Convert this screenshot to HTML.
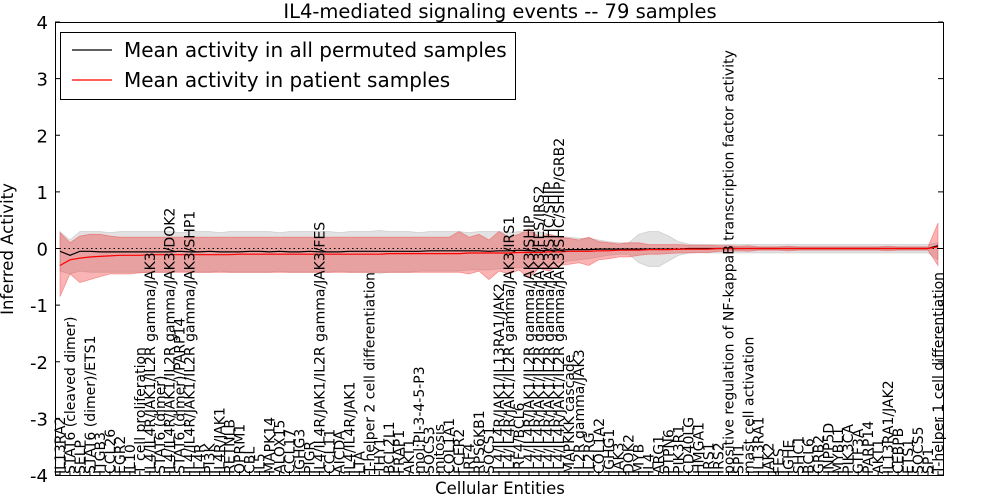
<!DOCTYPE html>
<html><head><meta charset="utf-8">
<style>
html,body{margin:0;padding:0;background:#fff;}
svg{display:block;font-family:"DejaVu Sans","Liberation Sans",sans-serif;}
</style></head>
<body>
<svg id="chart" width="1000" height="500" viewBox="0 0 1000 500">
  <rect x="0" y="0" width="1000" height="500" fill="#fff"/>
  <text x="500" y="18" text-anchor="middle" font-size="19.5">IL4-mediated signaling events -- 79 samples</text>
  <g id="bands"></g>
  <g id="lines"></g>
  <g id="xlabels"></g>
  <g id="axes"></g>
  <text x="500" y="494" text-anchor="middle" font-size="16.5">Cellular Entities</text>
  <text transform="translate(13,249) rotate(-90)" text-anchor="middle" font-size="16.5">Inferred Activity</text>
  <g>
    <rect x="60.5" y="32.5" width="455" height="67" fill="#fff" stroke="#000" stroke-width="1"/>
    <line x1="72" y1="50" x2="112" y2="50" stroke="#000" stroke-width="1.2"/>
    <text x="124" y="57" font-size="20">Mean activity in all permuted samples</text>
    <line x1="72" y1="80" x2="112" y2="80" stroke="#f00" stroke-width="1.2"/>
    <text x="124" y="87" font-size="20">Mean activity in patient samples</text>
  </g>
</svg>
<script>
const categories = ["IL13RA2","STAT6 (cleaved dimer)","SELP","STAT6 (dimer)/ETS1","ITGB3","CCL26","EGR2","IL10","T cell proliferation","IL4/IL4R/JAK1/IL2R gamma/JAK3","STAT6 (dimer)","IL4/IL4R/JAK1/IL2R gamma/JAK3/DOK2","STAT6 (dimer)/PARP14","IL4/IL4R/JAK1/IL2R gamma/JAK3/SHP1","IL4R","PI3K","IL4R/JAK1","RETNLB","OPRM1","CBL","IL5","MAPK14","ALOX15","CCL17","IGHG3","PIGR","IL4/IL4R/JAK1/IL2R gamma/JAK3/FES","CCL11","AICDA","IL4/IL4R/JAK1","LTA","T-helper 2 cell differentiation","THY1","BCL2L1","FRAP1","AKT1","mol:PI-3-4-5-P3","SOCS3","mitosis","COL1A1","FCER2","IRF4","RPS6KB1","SOCS1","IL4/IL4R/JAK1/IL13RA1/JAK2","IL4/IL4R/JAK1/IL2R gamma/JAK3/IRS1","IRF4/BCL6","IL4/IL4R/JAK1/IL2R gamma/JAK3/SHIP","IL4/IL4R/JAK1/IL2R gamma/JAK3/FES/IRS2","IL4/IL4R/JAK1/IL2R gamma/JAK3/SHC/SHIP","IL4/IL4R/JAK1/IL2R gamma/JAK3/SHC/SHIP/GRB2","MAPKKK cascade","IL2R gamma/JAK3","IL2RG","COL1A2","IGHG1","JAK3","DOK2","MYB","IL4","ARG1","PTPN6","PIK3R1","CD40LG","HMGA1","IRS1","IRS2","positive regulation of NF-kappaB transcription factor activity","SPI1","mast cell activation","IL13RA1","JAK2","FES","IGHE","SHC1","BCL6","GRB2","INPP5D","MYBL1","PIK3CA","GTF3A","PARP14","AKT1","IL13RA1/JAK2","CEBPB","ETS1","SOCS5","SP1","T-helper 1 cell differentiation"];
const permMean = [-0.05,-0.12,-0.05,-0.05,-0.06,-0.06,-0.06,-0.06,-0.06,-0.06,
-0.06,-0.06,-0.05,-0.06,-0.06,-0.05,-0.06,-0.06,-0.06,-0.05,
-0.05,-0.06,-0.05,-0.06,-0.06,-0.05,-0.06,-0.06,-0.06,-0.05,
-0.05,-0.05,-0.05,-0.05,-0.05,-0.05,-0.05,-0.04,-0.04,-0.04,
-0.04,-0.04,-0.04,-0.05,-0.04,-0.04,-0.03,-0.04,-0.04,-0.03,
-0.03,-0.02,-0.02,-0.02,-0.01,-0.01,-0.01,-0.01,-0.01,-0.01,
-0.01,-0.01,-0.01,0,0,0,0,0,0,0,
0,0,0,0,0,0,0,0,0,0,
0,0,0,0,0,0,0,0,0.05];
const permHi = [0.3,0.15,0.3,0.3,0.3,0.28,0.3,0.3,0.3,0.3,
0.3,0.3,0.28,0.3,0.3,0.3,0.28,0.3,0.3,0.3,
0.3,0.3,0.28,0.3,0.3,0.3,0.3,0.3,0.28,0.3,
0.3,0.3,0.32,0.3,0.3,0.3,0.28,0.3,0.3,0.3,
0.3,0.28,0.3,0.3,0.3,0.28,0.3,0.28,0.3,0.25,
0.22,0.2,0.18,0.18,0.15,0.12,0.1,0.1,0.25,0.3,
0.3,0.22,0.12,0.08,0.07,0.07,0.07,0.07,0.07,0.07,
0.07,0.07,0.07,0.07,0.07,0.07,0.07,0.07,0.07,0.07,
0.07,0.07,0.07,0.07,0.07,0.07,0.07,0.07,0.1];
const permLo = [-0.4,-0.45,-0.4,-0.42,-0.42,-0.42,-0.42,-0.42,-0.42,-0.42,
-0.42,-0.42,-0.4,-0.42,-0.42,-0.42,-0.4,-0.42,-0.42,-0.42,
-0.42,-0.42,-0.4,-0.42,-0.42,-0.42,-0.42,-0.42,-0.4,-0.42,
-0.42,-0.42,-0.44,-0.42,-0.42,-0.42,-0.4,-0.4,-0.4,-0.4,
-0.4,-0.38,-0.38,-0.38,-0.36,-0.35,-0.34,-0.32,-0.3,-0.28,
-0.25,-0.22,-0.2,-0.18,-0.15,-0.12,-0.1,-0.1,-0.25,-0.32,
-0.32,-0.22,-0.12,-0.08,-0.08,-0.08,-0.08,-0.08,-0.08,-0.08,
-0.08,-0.08,-0.08,-0.08,-0.08,-0.08,-0.08,-0.08,-0.08,-0.08,
-0.08,-0.08,-0.08,-0.08,-0.08,-0.08,-0.08,-0.08,-0.2];
const patMean = [-0.3,-0.2,-0.17,-0.15,-0.14,-0.13,-0.12,-0.12,-0.12,-0.11,
-0.11,-0.11,-0.11,-0.11,-0.11,-0.11,-0.11,-0.11,-0.1,-0.1,
-0.1,-0.1,-0.1,-0.1,-0.1,-0.1,-0.1,-0.1,-0.1,-0.1,
-0.1,-0.1,-0.1,-0.09,-0.09,-0.09,-0.09,-0.09,-0.09,-0.09,
-0.09,-0.08,-0.08,-0.08,-0.08,-0.08,-0.07,-0.07,-0.07,-0.06,
-0.06,-0.05,-0.05,-0.05,-0.04,-0.04,-0.03,-0.03,-0.03,-0.02,
-0.02,-0.02,-0.01,-0.01,-0.01,-0.01,0,0,0,0,
0,0,0,0,0,0,0,0,0,0,
0,0,0,0,0,0,0,0,0.03];
const patHi = [0.28,0.1,0.22,0.25,0.25,0.22,0.2,0.2,0.2,0.2,
0.2,0.2,0.2,0.2,0.2,0.2,0.2,0.2,0.2,0.2,
0.2,0.2,0.2,0.2,0.2,0.2,0.2,0.2,0.2,0.2,
0.2,0.2,0.2,0.2,0.2,0.2,0.2,0.2,0.2,0.2,
0.3,0.2,0.25,0.15,0.3,0.2,0.25,0.35,0.2,0.25,
0.2,0.18,0.15,0.2,0.12,0.1,0.08,0.1,0.1,0.07,
0.07,0.07,0.07,0.06,0.06,0.06,0.05,0.05,0.04,0.05,
0.03,0.03,0.03,0.04,0.03,0.03,0.03,0.03,0.03,0.03,
0.03,0.03,0.03,0.04,0.03,0.03,0.03,0.03,0.45];
const patLo = [-0.85,-0.45,-0.6,-0.55,-0.5,-0.45,-0.45,-0.45,-0.43,-0.42,
-0.42,-0.42,-0.42,-0.42,-0.42,-0.42,-0.42,-0.42,-0.42,-0.42,
-0.42,-0.42,-0.42,-0.42,-0.42,-0.42,-0.42,-0.42,-0.42,-0.42,
-0.42,-0.42,-0.42,-0.42,-0.42,-0.42,-0.42,-0.42,-0.42,-0.42,
-0.42,-0.45,-0.4,-0.55,-0.4,-0.45,-0.38,-0.52,-0.35,-0.4,
-0.3,-0.28,-0.25,-0.3,-0.2,-0.18,-0.15,-0.15,-0.12,-0.1,
-0.1,-0.09,-0.08,-0.08,-0.07,-0.07,-0.05,-0.05,-0.04,-0.05,
-0.03,-0.03,-0.03,-0.04,-0.03,-0.03,-0.03,-0.03,-0.03,-0.03,
-0.03,-0.03,-0.03,-0.04,-0.03,-0.03,-0.03,-0.03,-0.3];
const yTicks = [-4,-3,-2,-1,0,1,2,3,4];

const NS = "http://www.w3.org/2000/svg";
const L = 55, R = 943, T = 22, B = 475;
const n = categories.length;
function xs(i){ return L + (i + 0.5) * (R - L) / n; }
function ys(v){ return B - (v + 4) * (B - T) / 8; }
function mk(tag, attrs, parent){ const e = document.createElementNS(NS, tag); for (const k in attrs) e.setAttribute(k, attrs[k]); parent.appendChild(e); return e; }

const bands = document.getElementById('bands');
function bandPath(hi, lo){
  let d = '';
  for (let i = 0; i < n; i++) d += (i ? 'L' : 'M') + xs(i).toFixed(1) + ' ' + ys(hi[i]).toFixed(1);
  for (let i = n - 1; i >= 0; i--) d += 'L' + xs(i).toFixed(1) + ' ' + ys(lo[i]).toFixed(1);
  return d + 'Z';
}
const gb = mk('path', {d: bandPath(permHi, permLo), fill: 'rgba(140,140,140,0.25)', stroke: 'rgba(140,140,140,0.3)', 'stroke-width': 0.8}, bands);


const rb = mk('path', {d: bandPath(patHi, patLo), fill: 'rgba(240,40,40,0.35)', stroke: 'rgba(240,40,40,0.4)', 'stroke-width': 0.8}, bands);



const lines = document.getElementById('lines');
const zl = mk('line', {x1: L, x2: R, y1: ys(0), y2: ys(0), stroke: '#000', 'stroke-width': 1, 'stroke-dasharray': '1.5,3'}, lines);


function linePts(arr){ return arr.map((v, i) => xs(i).toFixed(1) + ',' + ys(v).toFixed(1)).join(' '); }
const bl = mk('polyline', {points: linePts(permMean), fill: 'none', stroke: '#000', 'stroke-width': 1.2}, lines);


const rl = mk('polyline', {points: linePts(patMean), fill: 'none', stroke: '#f00', 'stroke-width': 1.2}, lines);



const xl = document.getElementById('xlabels');
categories.forEach((c, i) => {
  const x = xs(i) + 5;
  const t = mk('text', {transform: 'translate(' + x.toFixed(1) + ',' + (B - 1) + ') rotate(-90)', 'font-size': 14}, xl);
  
  
  t.textContent = c;
});

const ax = document.getElementById('axes');
const fr = mk('rect', {x: L + 0.5, y: T + 0.5, width: R - L, height: B - T, fill: 'none', stroke: '#000', 'stroke-width': 1}, ax);


yTicks.forEach(v => {
  const y = ys(v);
  const t1 = mk('line', {x1: L, x2: L + 5, y1: y, y2: y, stroke: '#000'}, ax);
  
  
  const t2 = mk('line', {x1: R - 5, x2: R, y1: y, y2: y, stroke: '#000'}, ax);
  
  
  const lb = mk('text', {x: L - 7, y: y + 7, 'text-anchor': 'end', 'font-size': 18}, ax);
  
  
  lb.textContent = v;
});
categories.forEach((c, i) => {
  const tk = mk('line', {x1: xs(i), x2: xs(i), y1: B - 4, y2: B, stroke: '#000'}, ax);
  
  
});
</script>
</body></html>
